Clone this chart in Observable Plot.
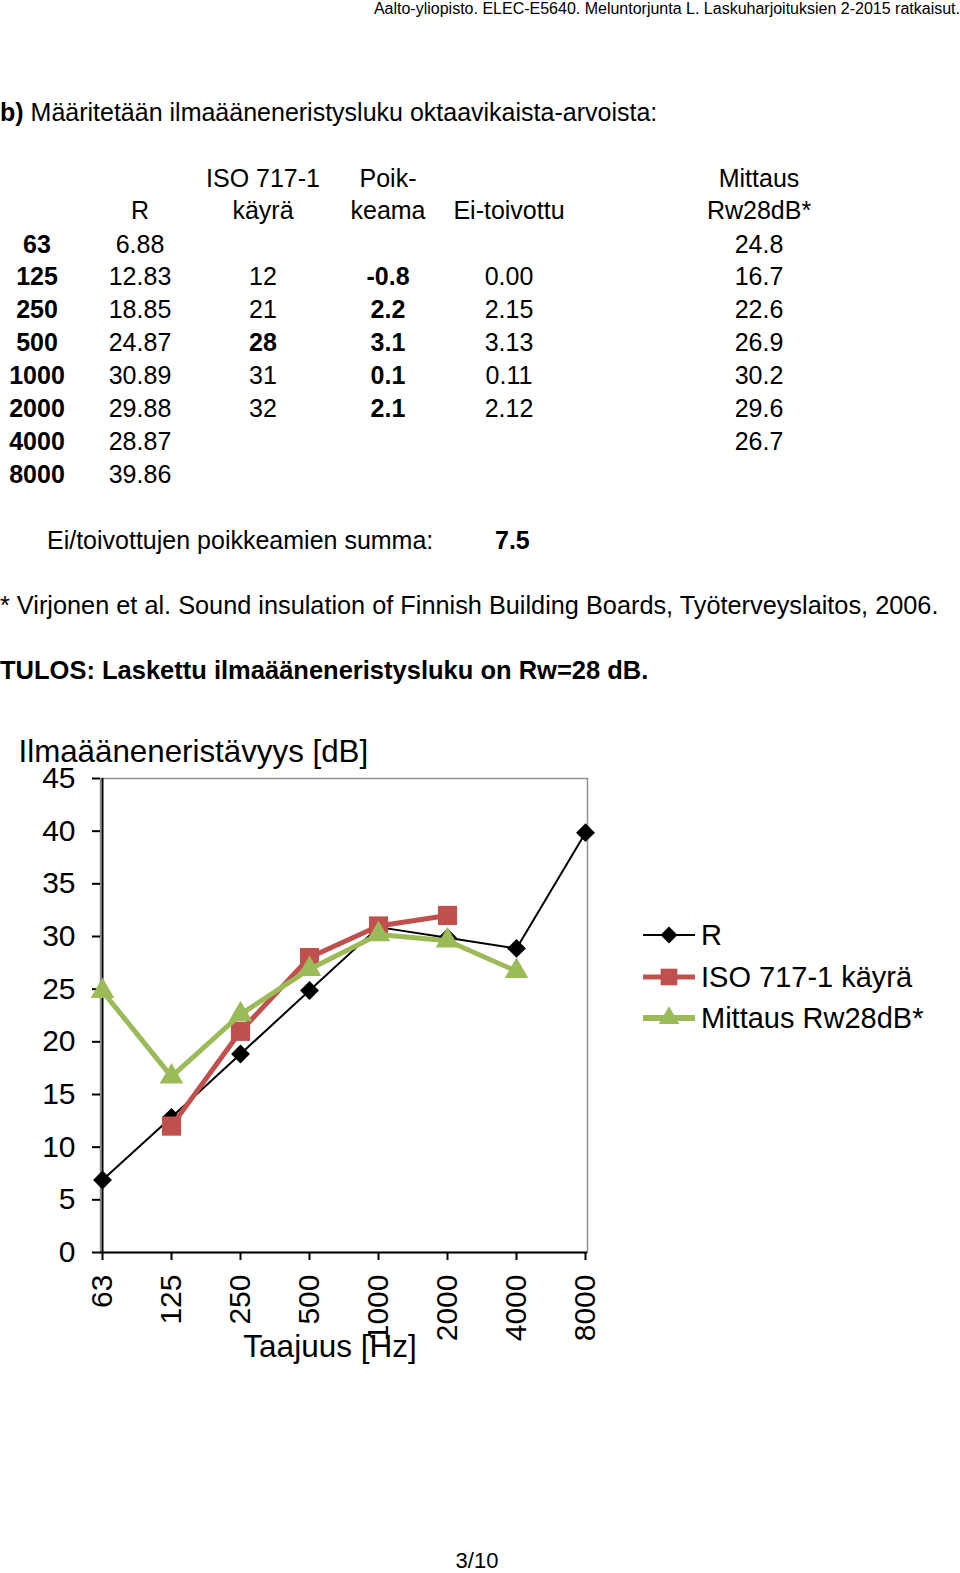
<!DOCTYPE html>
<html><head><meta charset="utf-8">
<script src="https://cdn.jsdelivr.net/npm/d3@7"></script>
<script src="https://cdn.jsdelivr.net/npm/@observablehq/plot@0.6"></script>
<style>
html,body{margin:0;padding:0;background:#fff;}
body{width:960px;height:1573px;position:relative;overflow:hidden;font-family:"Liberation Sans",Arial,Helvetica,sans-serif;color:#000;}
.t{position:absolute;white-space:nowrap;line-height:1;}
#chart{position:absolute;left:0;top:723px;}
#chart svg{overflow:visible;}
</style></head><body>
<div id="chart"></div>
<script>
// ---------- data ----------
const freqs = ["63","125","250","500","1000","2000","4000","8000"];
const rValues = [6.88,12.83,18.85,24.87,30.89,29.88,28.87,39.86];
const isoValues = [null,12,21,28,31,32,null,null];
const poikValues = [null,-0.8,2.2,3.1,0.1,2.1,null,null];
const eiValues = [null,0.00,2.15,3.13,0.11,2.12,null,null];
const mittausValues = [24.8,16.7,22.6,26.9,30.2,29.6,26.7,null];
const yTicks = [0,5,10,15,20,25,30,35,40,45];
const seriesNames = ["R","ISO 717-1 käyrä","Mittaus Rw28dB*"];
const seriesColors = ["#000000","#C0504D","#9BBB59"];
const seriesSymbols = ["diamond2","square","triangle"];

// ---------- text helper ----------
function put(text, x, y, o = {}) {
  const d = document.createElement("div");
  d.className = "t";
  d.textContent = text;
  d.style.left = x + "px";
  d.style.top = y + "px";
  d.style.fontSize = (o.size || 25) + "px";
  if (o.bold) d.style.fontWeight = "bold";
  const tx = o.anchor === "middle" ? "-50%" : o.anchor === "end" ? "-100%" : "0";
  d.style.transform = `translate(${tx},-50%)`;
  document.body.appendChild(d);
  return d;
}

// header
put("Aalto-yliopisto. ELEC-E5640. Meluntorjunta L. Laskuharjoituksien 2-2015 ratkaisut.", 960, 9, {size: 16, anchor: "end"});
const b = put("", 0, 112, {size: 25});
b.innerHTML = "<b>b)</b> Määritetään ilmaääneneristysluku oktaavikaista-arvoista:";

// table
const colX = [37, 140, 263, 388, 509, 759];
const rowY0 = 243.5, rowDY = 32.9;
put("ISO 717-1", colX[2], 178, {anchor: "middle"});
put("Poik-", colX[3], 178, {anchor: "middle"});
put("Mittaus", colX[5], 178, {anchor: "middle"});
put("R", colX[1], 210, {anchor: "middle"});
put("käyrä", colX[2], 210, {anchor: "middle"});
put("keama", colX[3], 210, {anchor: "middle"});
put("Ei-toivottu", colX[4], 210, {anchor: "middle"});
put("Rw28dB*", colX[5], 210, {anchor: "middle"});
freqs.forEach((f, i) => {
  const y = rowY0 + i * rowDY;
  put(f, colX[0], y, {anchor: "middle", bold: true});
  put(rValues[i].toFixed(2), colX[1], y, {anchor: "middle"});
  if (isoValues[i] != null) put(String(isoValues[i]), colX[2], y, {anchor: "middle", bold: isoValues[i] === 28});
  if (poikValues[i] != null) put(poikValues[i].toFixed(1), colX[3], y, {anchor: "middle", bold: true});
  if (eiValues[i] != null) put(eiValues[i].toFixed(2), colX[4], y, {anchor: "middle"});
  if (mittausValues[i] != null) put(mittausValues[i].toFixed(1), colX[5], y, {anchor: "middle"});
});
const sumEi = eiValues.reduce((s, v) => s + (v || 0), 0);
put("Ei/toivottujen poikkeamien summa:", 47, 540);
put(sumEi.toFixed(1), 495, 540, {bold: true});
put("* Virjonen et al. Sound insulation of Finnish Building Boards, Työterveyslaitos, 2006.", 0, 606, {size: 25.3});
put("TULOS: Laskettu ilmaääneneristysluku on Rw=28 dB.", 0, 671, {size: 25.5, bold: true});
put("3/10", 477, 1561, {size: 22, anchor: "middle"});

// ---------- chart ----------
const rData = freqs.map((f, i) => ({f, v: rValues[i]}));
const isoData = freqs.map((f, i) => ({f, v: isoValues[i]})).filter(d => d.v != null);
const mitData = freqs.map((f, i) => ({f, v: mittausValues[i]})).filter(d => d.v != null);

const chart = Plot.plot({
  width: 620, height: 660,
  marginLeft: 100, marginRight: 33, marginTop: 55, marginBottom: 131,
  style: {fontFamily: '"Liberation Sans", Arial, sans-serif', fontSize: "30px", color: "black", background: "transparent", overflow: "visible"},
  x: {type: "point", domain: freqs, padding: 0, label: null},
  y: {domain: [0, 45], label: null},
  marks: [
    Plot.frame({stroke: "#8f8f8f", strokeWidth: 1.5}),
    Plot.axisY({ticks: yTicks, tickSize: 8, tickPadding: 17, label: null, fontSize: 30, strokeWidth: 2, stroke: "black"}),
    Plot.axisX({tickSize: 8, tickPadding: 14, tickRotate: -90, label: null, fontSize: 30, strokeWidth: 2, stroke: "black"}),
    Plot.ruleX([freqs[0]], {stroke: "black", strokeWidth: 2}),
    Plot.ruleY([0], {stroke: "black", strokeWidth: 2}),
    Plot.line(rData, {x: "f", y: "v", stroke: seriesColors[0], strokeWidth: 2}),
    Plot.dot(rData, {x: "f", y: "v", symbol: seriesSymbols[0], r: 8.5, fill: seriesColors[0], stroke: "none"}),
    Plot.line(isoData, {x: "f", y: "v", stroke: seriesColors[1], strokeWidth: 5}),
    Plot.dot(isoData, {x: "f", y: "v", symbol: seriesSymbols[1], r: 10.8, fill: seriesColors[1], stroke: "none"}),
    Plot.line(mitData, {x: "f", y: "v", stroke: seriesColors[2], strokeWidth: 5}),
    Plot.dot(mitData, {x: "f", y: "v", symbol: seriesSymbols[2], r: 8.8, fill: seriesColors[2], stroke: "none"}),
    Plot.text(["Ilmaääneneristävyys [dB]"], {frameAnchor: "top-left", textAnchor: "start", dx: -82, dy: -39, fontSize: 31.3}),
    Plot.text(["Taajuus [Hz]"], {frameAnchor: "bottom", dx: -14, dy: 104, fontSize: 31.5})
  ]
});
document.getElementById("chart").appendChild(chart);

// ---------- legend ----------
const legY = [935, 977, 1018];
const lineW = [2, 5, 6];
const symSize = [Math.PI * 8.5 * 8.5, Math.PI * 10.5 * 10.5, Math.PI * 8.5 * 8.5];
const symTypes = [d3.symbolDiamond2, d3.symbolSquare, d3.symbolTriangle];
seriesNames.forEach((name, i) => {
  const svg = d3.create("svg").attr("width", 60).attr("height", 30)
    .style("position", "absolute").style("left", "639px").style("top", (legY[i] - 15) + "px");
  svg.append("line").attr("x1", 4).attr("x2", 56).attr("y1", 15).attr("y2", 15)
    .attr("stroke", seriesColors[i]).attr("stroke-width", lineW[i]);
  svg.append("path").attr("transform", "translate(30,15)")
    .attr("d", d3.symbol(symTypes[i], symSize[i] * 0.8)()).attr("fill", seriesColors[i]);
  document.body.appendChild(svg.node());
  put(name, 701, legY[i], {size: 29});
});
</script>
</body></html>
